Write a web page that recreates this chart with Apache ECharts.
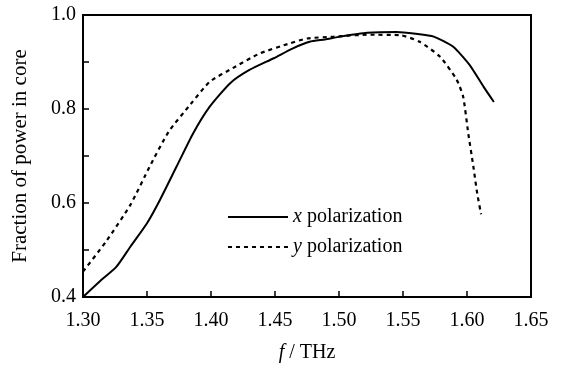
<!DOCTYPE html>
<html><head><meta charset="UTF-8">
<title>Fraction of power in core</title>
<script src="https://cdn.jsdelivr.net/npm/echarts@6/dist/echarts.min.js"></script>
<style>
  *{margin:0;padding:0;}
  html,body{width:566px;height:370px;background:#fff;}
  #chart{width:566px;height:370px;}
</style>
</head>
<body>
<div id="chart"></div>
<script>
// x polarization (solid)
var freqX  = [1.300,1.313,1.326,1.337,1.350,1.360,1.373,1.386,1.399,1.415,1.430,1.449,1.464,1.477,1.489,1.501,1.522,1.545,1.560,1.574,1.589,1.602,1.613,1.621];
var powerX = [0.400,0.433,0.464,0.507,0.557,0.606,0.677,0.748,0.805,0.855,0.883,0.908,0.929,0.943,0.948,0.954,0.962,0.964,0.960,0.954,0.933,0.894,0.847,0.815];
// y polarization (dashed)
var freqY  = [1.300,1.318,1.337,1.352,1.367,1.384,1.399,1.417,1.438,1.462,1.475,1.496,1.522,1.548,1.563,1.579,1.592,1.597,1.601,1.605,1.608,1.611];
var powerY = [0.454,0.518,0.596,0.677,0.752,0.810,0.858,0.887,0.918,0.940,0.950,0.954,0.958,0.957,0.943,0.911,0.862,0.826,0.748,0.677,0.620,0.576];

function pairs(a, b){
    var out = [];
    for (var i = 0; i < a.length; i++) out.push([a[i], b[i]]);
    return out;
}

var font = 'Liberation Serif';
var fs = 20;
var rich = {i: {fontStyle: 'italic', fontFamily: font, fontSize: fs, color: '#000'}, n: {fontFamily: font, fontSize: fs, color: '#000'}};
var chart = echarts.init(document.getElementById('chart'));
chart.setOption({
    animation: false,
    textStyle: {fontFamily: font, color: '#000'},
    grid: {left: 83, right: 35, top: 15, bottom: 73, show: true, borderColor: '#000', borderWidth: 2},
    legend: {
        orient: 'vertical', left: 222, top: 202, itemWidth: 60, itemHeight: 10, itemGap: 10,
        itemStyle: {opacity: 0},
        textStyle: {fontFamily: font, fontSize: fs, color: '#000', rich: rich},
        formatter: function(name){ return '{i|' + name.charAt(0) + '}{n| polarization}'; },
        data: ['x polarization', 'y polarization']
    },
    xAxis: {
        type: 'value', min: 1.30, max: 1.65, interval: 0.05,
        name: '{i|f}{n| / THz}', nameLocation: 'middle', nameGap: 46,
        nameTextStyle: {fontFamily: font, fontSize: fs, color: '#000', rich: rich},
        axisLine: {lineStyle: {color: '#000', width: 2}},
        axisTick: {inside: true, length: 6, lineStyle: {color: '#000', width: 1.5}},
        axisLabel: {fontFamily: font, fontSize: fs, color: '#000', margin: 14,
            formatter: function(v){ return v.toFixed(2); }},
        splitLine: {show: false}
    },
    yAxis: {
        type: 'value', min: 0.4, max: 1.0, interval: 0.1,
        name: 'Fraction of power in core', nameLocation: 'middle', nameGap: 52,
        nameTextStyle: {fontFamily: font, fontSize: 21, color: '#000'},
        axisLine: {lineStyle: {color: '#000', width: 2}},
        axisTick: {inside: true, length: 6, lineStyle: {color: '#000', width: 1.5}},
        axisLabel: {fontFamily: font, fontSize: fs, color: '#000', margin: 7,
            formatter: function(v){
                var k = Math.round(v * 10);
                return k % 2 === 0 ? v.toFixed(1) : '';
            }},
        splitLine: {show: false}
    },
    series: [
        {name: 'x polarization', type: 'line', data: pairs(freqX, powerX), smooth: 0.2,
         symbol: 'none', lineStyle: {color: '#000', width: 2, type: 'solid'}, itemStyle: {color: '#000'}},
        {name: 'y polarization', type: 'line', data: pairs(freqY, powerY), smooth: 0.2,
         symbol: 'none', lineStyle: {color: '#000', width: 2.2, type: [4, 4]}, itemStyle: {color: '#000'}}
    ]
});
</script>
</body></html>
